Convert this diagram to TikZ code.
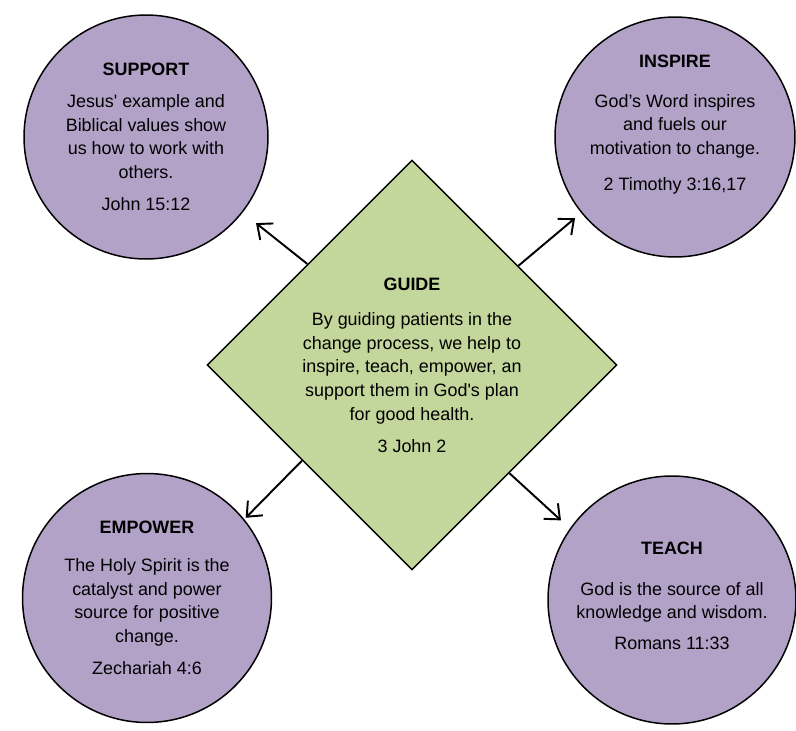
\documentclass[tikz,border=0pt]{standalone}
\usepackage{fontspec}
\setmainfont{Liberation Sans}
\usetikzlibrary{shapes.geometric}
\usetikzlibrary{arrows.meta}

\definecolor{lilac}{RGB}{179,162,199}
\definecolor{sage}{RGB}{195,214,155}

\begin{document}
\begin{tikzpicture}[x=0.02cm,y=-0.02cm,
        bodyfont/.style={font=\fontsize{10.2}{13.4}\selectfont},
        stagecircle/.style={circle, draw, line width=0.85pt, fill=lilac, inner sep=0pt, align=center, bodyfont},
        guidebox/.style={diamond, draw, line width=0.85pt, fill=sage, inner sep=0pt, minimum size=8.2cm, align=center, bodyfont},
        link/.style={line width=1.1pt, -{Straight Barb[length=7pt,width=12pt]}}]
                \useasboundingbox (0,0) rectangle (796,731);
                \node[guidebox] (guide) at (412,365) {\textbf{GUIDE}\\[7pt]By guiding patients in the\\change process, we help to\\inspire, teach, empower, an\\support them in God\textquotesingle s plan\\for good health.\\[5pt]3 John 2};
                \node[stagecircle, minimum size=4.88cm] (support) at (146,137) {\textbf{SUPPORT}\\[5pt]Jesus\textquotesingle{} example and\\Biblical values show\\us how to work with\\others.\\[5pt]John 15:12};
                \node[stagecircle, minimum size=4.8cm, text depth=16.2pt] (inspire) at (675,137) {\textbf{INSPIRE}\\[9.2pt]God's Word inspires\\and fuels our\\motivation to change.\\[7pt]2 Timothy 3:16,17};
                \node[stagecircle, minimum size=4.98cm] (empower) at (147,598) {\textbf{EMPOWER}\\[8pt]The Holy Spirit is the\\catalyst and power\\source for positive\\change.\\[5pt]Zechariah 4:6};
                \node[stagecircle, minimum size=4.96cm, text depth=5pt] (teach) at (672,600) {\textbf{TEACH}\\[10pt]God is the source of all\\knowledge and wisdom.\\[4pt]Romans 11:33};
                \draw[link, shorten >=0.34cm] (guide.136) -- (support.-38);
                \draw[link, shorten >=0.16cm] (guide.43) -- (inspire.-141);
                \draw[link, shorten >=0.04cm] (guide.-139) -- (empower.39);
                \draw[link, shorten >=0.24cm] (guide.-48) -- (teach.145);
            \end{tikzpicture}
\end{document}
